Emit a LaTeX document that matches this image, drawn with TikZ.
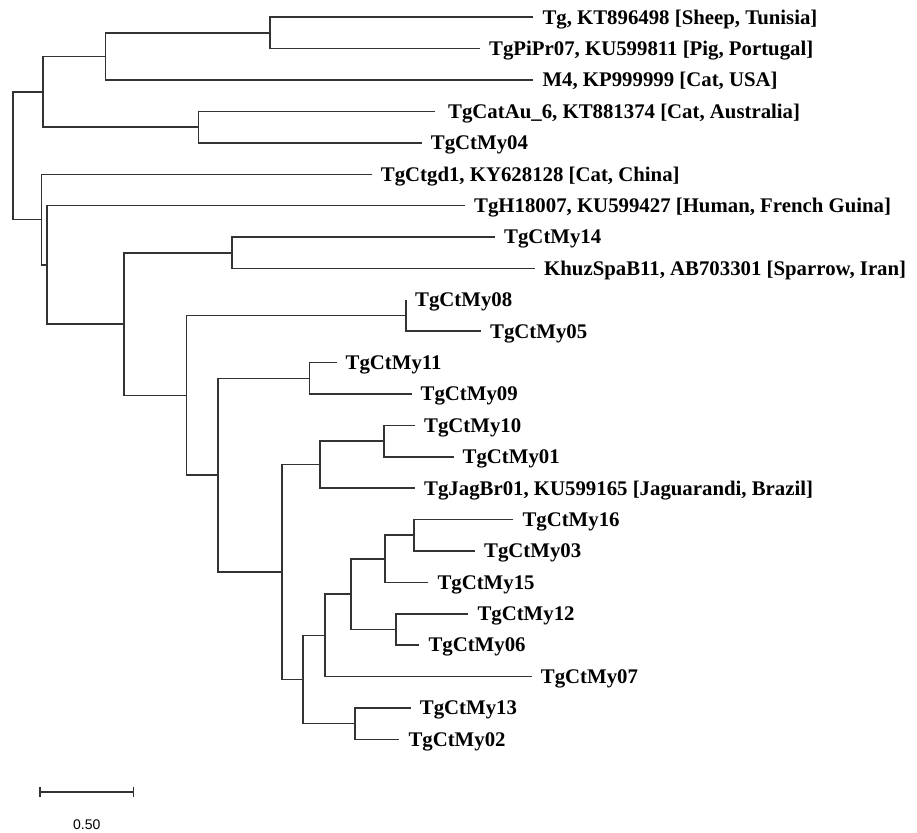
\documentclass[tikz,border=0pt]{standalone}
\usepackage{fontspec}
\setmainfont{Liberation Serif}
\setsansfont{Liberation Sans}
\usetikzlibrary{arrows.meta}
\tikzset{
  branch/.style={line width=1.6pt, black!80},
  leaf/.style={anchor=west, inner xsep=9pt, inner ysep=0pt, text height=13.6pt,
    text depth=0pt, font=\bfseries\fontsize{20.8}{24}\selectfont},
  scalelabel/.style={font=\sffamily\fontsize{14}{16}\selectfont, text height=10pt, text depth=0pt},
}
\begin{document}
\begin{tikzpicture}[x=1pt, y=-1pt]
    \useasboundingbox (0,0) rectangle (917,832);
    % Folhas da arvore
    \node[leaf] (tg)    at (533.3,17.3)  {Tg, KT896498 [Sheep, Tunisia]};
    \node[leaf] (pipr)  at (480.0,48.7)  {TgPiPr07, KU599811 [Pig, Portugal]};
    \node[leaf] (mfour) at (533.3,80.1)  {M4, KP999999 [Cat, USA]};
    \node[leaf, inner xsep=13pt] (catau) at (435.0,111.5) {TgCatAu\_6, KT881374 [Cat, Australia]};
    \node[leaf] (my04)  at (421.7,142.9) {TgCtMy04};
    \node[leaf] (ctgd)  at (371.7,174.3) {TgCtgd1, KY628128 [Cat, China]};
    \node[leaf] (hum)   at (465.0,205.6) {TgH18007, KU599427 [Human, French Guina]};
    \node[leaf] (my14)  at (495.0,237.0) {TgCtMy14};
    \node[leaf] (khuz)  at (535.0,268.4) {KhuzSpaB11, AB703301 [Sparrow, Iran]};
    \node[leaf] (my08)  at (406.0,299.8) {TgCtMy08};
    \node[leaf] (my05)  at (481.0,331.2) {TgCtMy05};
    \node[leaf] (my11)  at (336.5,362.6) {TgCtMy11};
    \node[leaf] (my09)  at (411.5,394.0) {TgCtMy09};
    \node[leaf] (my10)  at (415.0,425.4) {TgCtMy10};
    \node[leaf] (my01)  at (453.5,456.8) {TgCtMy01};
    \node[leaf] (jag)   at (415.0,488.2) {TgJagBr01, KU599165 [Jaguarandi, Brazil]};
    \node[leaf] (my16)  at (513.3,519.5) {TgCtMy16};
    \node[leaf] (my03)  at (475.0,550.9) {TgCtMy03};
    \node[leaf] (my15)  at (428.3,582.3) {TgCtMy15};
    \node[leaf] (my12)  at (468.3,613.7) {TgCtMy12};
    \node[leaf] (my06)  at (419.3,645.1) {TgCtMy06};
    \node[leaf] (my07)  at (531.7,676.5) {TgCtMy07};
    \node[leaf] (my13)  at (410.7,707.9) {TgCtMy13};
    \node[leaf] (my02)  at (399.3,739.3) {TgCtMy02};
    % Nos internos
    \coordinate (n1)   at (269.7,33.0);
    \coordinate (n2)   at (105.3,56.6);
    \coordinate (n3)   at (198.3,127.2);
    \coordinate (n4)   at (42.7,91.9);
    \coordinate (n5)   at (231.7,252.7);
    \coordinate (n6)   at (406.0,315.5);
    \coordinate (n7)   at (309.3,378.3);
    \coordinate (n8)   at (383.7,441.1);
    \coordinate (n9)   at (319.7,464.6);
    \coordinate (n10)  at (414.0,535.2);
    \coordinate (n11)  at (385.0,558.7);
    \coordinate (n12)  at (395.7,629.4);
    \coordinate (n13)  at (350.7,594.1);
    \coordinate (n14)  at (324.7,635.3);
    \coordinate (n15)  at (354.7,723.6);
    \coordinate (n16)  at (302.7,679.4);
    \coordinate (n17)  at (281.7,572.0);
    \coordinate (n18)  at (217.7,475.2);
    \coordinate (n19)  at (186.3,395.3);
    \coordinate (n20)  at (123.7,324.0);
    \coordinate (n21)  at (46.7,264.8);
    \coordinate (n22)  at (41.3,219.5);
    \coordinate (root) at (12.7,155.7);
    % Ramos
    \draw[branch] (tg) -| (n1) |- (pipr);
    \draw[branch] (n1) -| (n2) |- (mfour);
    \draw[branch] (catau) -| (n3) |- (my04);
    \draw[branch] (n2) -| (n4) |- (n3);
    \draw[branch] (my14) -| (n5) |- (khuz);
    \draw[branch] (my08) -| (n6) |- (my05);
    \draw[branch] (my11) -| (n7) |- (my09);
    \draw[branch] (my10) -| (n8) |- (my01);
    \draw[branch] (n8) -| (n9) |- (jag);
    \draw[branch] (my16) -| (n10) |- (my03);
    \draw[branch] (n10) -| (n11) |- (my15);
    \draw[branch] (my12) -| (n12) |- (my06);
    \draw[branch] (n11) -| (n13) |- (n12);
    \draw[branch] (n13) -| (n14) |- (my07);
    \draw[branch] (my13) -| (n15) |- (my02);
    \draw[branch] (n14) -| (n16) |- (n15);
    \draw[branch] (n9) -| (n17) |- (n16);
    \draw[branch] (n7) -| (n18) |- (n17);
    \draw[branch] (n6) -| (n19) |- (n18);
    \draw[branch] (n5) -| (n20) |- (n19);
    \draw[branch] (hum) -| (n21) |- (n20);
    \draw[branch] (ctgd) -| (n22) |- (n21);
    \draw[branch] (n4) -| (root) |- (n22);
    % Barra de escala
    \coordinate (sa) at (39.0,791.7);
    \coordinate (sb) at (134.3,791.7);
    \draw[branch, {Bar[width=10pt]}-{Bar[width=10pt]}] (sa) -- (sb);
    \node[scalelabel] (sl) at (86.7,824.0) {0.50};
\end{tikzpicture}
\end{document}
